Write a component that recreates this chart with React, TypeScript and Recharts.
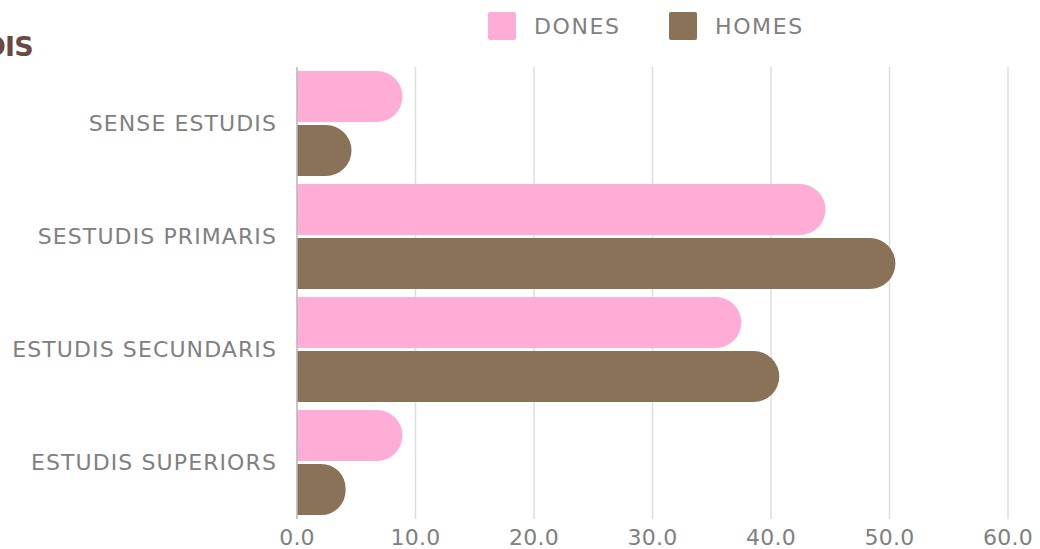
import { BarChart, Bar, XAxis, YAxis, CartesianGrid } from "recharts"

const PINK = "#FFADD7"
const BROWN = "#8A7258"
const TEXT = "#808080"
const FONT = "'DejaVu Sans', sans-serif"

const categories = ["SENSE ESTUDIS", "SESTUDIS PRIMARIS", "ESTUDIS SECUNDARIS", "ESTUDIS SUPERIORS"]
const dones = [8.9, 44.6, 37.5, 8.9]
const homes = [4.6, 50.5, 40.7, 4.1]
const xTicks = [0, 10, 20, 30, 40, 50, 60]

const chartData = categories.map((name, i) => ({ name, dones: dones[i], homes: homes[i] }))

function LegendItem({ color, label, left }: { color: string; label: string; left: number }) {
  return (
    <div style={{ position: "absolute", left, top: 12, display: "flex", alignItems: "center" }}>
      <span style={{ width: 28, height: 28, background: color, borderRadius: 2, display: "inline-block" }} />
      <span style={{ marginLeft: 18, fontSize: 22, letterSpacing: 1.6, color: TEXT, fontFamily: FONT }}>
        {label}
      </span>
    </div>
  )
}

export default function App() {
  return (
    <div style={{ position: "fixed", left: 0, top: 0, width: 1040, height: 549, background: "#fff", overflow: "hidden" }}>
      <div
        style={{
          position: "absolute", right: 1040 - 33, top: 31, whiteSpace: "nowrap",
          fontFamily: FONT, fontWeight: "bold", fontSize: 27, color: "#6B4A3F", letterSpacing: -0.8,
        }}
      >
        NIVELL D'ESTUDIS
      </div>

      <LegendItem color={PINK} label="DONES" left={488} />
      <LegendItem color={BROWN} label="HOMES" left={669} />

      <BarChart
        width={1040}
        height={549}
        data={chartData}
        layout="vertical"
        margin={{ top: 67, right: 32, left: 0, bottom: 0 }}
        barSize={51}
        barGap={3}
      >
        <CartesianGrid horizontal={false} stroke="#DDDDDD" strokeWidth={1.5} />
        <XAxis
          type="number"
          domain={[0, 60]}
          ticks={xTicks}
          tickFormatter={(v: number) => v.toFixed(1)}
          axisLine={false}
          tickLine={false}
          tickSize={0}
          tickMargin={10}
          height={30}
          tick={{ fontSize: 22, fill: TEXT, fontFamily: FONT, letterSpacing: 0.2 }}
        />
        <YAxis
          type="category"
          dataKey="name"
          width={297}
          tickLine={false}
          tickSize={0}
          tickMargin={20}
          axisLine={{ stroke: "#BBBBBB", strokeWidth: 1.5 }}
          tick={{ fontSize: 22, fill: TEXT, fontFamily: FONT, letterSpacing: 1.1 }}
        />
        <Bar dataKey="dones" fill={PINK} radius={[0, 26, 26, 0]} isAnimationActive={false} />
        <Bar dataKey="homes" fill={BROWN} radius={[0, 26, 26, 0]} isAnimationActive={false} />
      </BarChart>
    </div>
  )
}
